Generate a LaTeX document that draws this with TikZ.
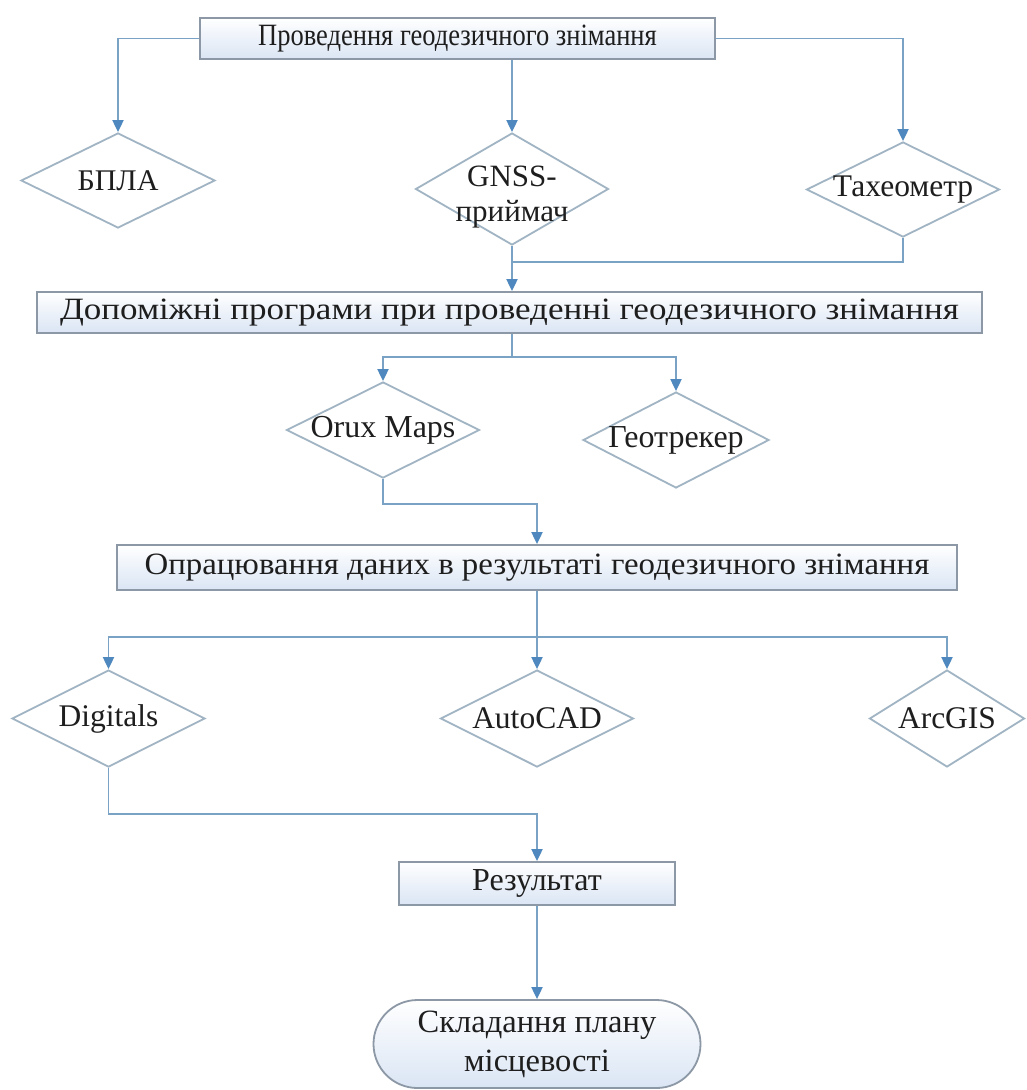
\documentclass[tikz,border=0pt]{standalone}
\usepackage{graphicx}
\usepackage{fontspec}
\setmainfont{Liberation Serif}
\usetikzlibrary{shapes.geometric,arrows.meta}
\definecolor{linec}{RGB}{122,162,196}
\definecolor{tipc}{RGB}{78,136,190}
\definecolor{boxline}{RGB}{140,152,165}
\definecolor{diamline}{RGB}{160,180,196}
\definecolor{boxfill}{RGB}{218,229,244}
\definecolor{txt}{RGB}{30,30,30}
\newcommand{\fs}[2]{\fontsize{#1}{#2}\selectfont}
\begin{document}
\begin{tikzpicture}[x=1pt,y=-1pt,
  every node/.style={font=\fs{32}{38}, text=txt},
  box/.style={draw=boxline, line width=1.8pt, top color=white, bottom color=boxfill, inner sep=0pt},
  dia/.style={draw=diamline, line width=1.8pt, shape=diamond, inner sep=0pt, fill=white},
  lbl/.style={inner sep=0pt, align=center},
  con/.style={draw=linec, line width=1.9pt},
  arr/.style={con, -{Triangle[width=11pt,length=12pt,color=tipc]}},
]
\useasboundingbox[fill=white] (0,0) rectangle (1027,1090);

% boxes
\node[box, minimum width=515pt, minimum height=41pt, font=\fs{31}{36}] (b1) at (457.5,38.5) {\scalebox{0.855}[1]{Проведення геодезичного знімання}};
\node[box, minimum width=945pt, minimum height=41pt, font=\fs{31}{36}] (b2) at (509.5,312.5) {\scalebox{1.13}[1]{Допоміжні програми при проведенні геодезичного знімання}};
\node[box, minimum width=840pt, minimum height=45pt, font=\fs{31}{36}] (b3) at (537,567.5) {\scalebox{1.06}[1]{Опрацювання даних в результаті геодезичного знімання}};
\node[box, minimum width=276pt, minimum height=43pt, font=\fs{32}{36}] (res) at (537,883.5) {Результат};
\node[box, rounded corners=44pt, minimum width=327pt, minimum height=88pt, align=center, font=\fs{32.5}{39}] (plan) at (537,1044) {Складання плану\\місцевості};

% diamonds
\node[dia, minimum width=194pt, minimum height=95pt] (bpla) at (118,180.5) {};
\node[lbl, font=\fs{30}{34}] (bpla-t) at (bpla) {БПЛА};
\node[dia, minimum width=193pt, minimum height=112pt] (gnss) at (512,189) {};
\node[lbl, font=\fs{31}{35}] (gnss-t) at (512,197) {GNSS-\\приймач};
\node[dia, minimum width=193pt, minimum height=95pt] (tax) at (903,189.5) {};
\node[lbl, font=\fs{31.5}{35}] (tax-t) at (tax) {Тахеометр};

\node[dia, minimum width=193pt, minimum height=96pt] (orux) at (383,430) {};
\node[lbl, font=\fs{32}{36}] (orux-t) at (orux) {Orux Maps};
\node[dia, minimum width=186pt, minimum height=96pt] (geo) at (676,440) {};
\node[lbl, font=\fs{32}{36}] (geo-t) at (geo) {Геотрекер};

\node[dia, minimum width=193pt, minimum height=97pt] (dig) at (108.5,718.5) {};
\node[lbl, font=\fs{31.5}{36}] (dig-t) at (dig) {Digitals};
\node[dia, minimum width=193pt, minimum height=97pt] (acad) at (537,718.5) {};
\node[lbl, font=\fs{31.5}{36}] (acad-t) at (acad) {AutoCAD};
\node[dia, minimum width=155pt, minimum height=97pt] (arc) at (947,718.5) {};
\node[lbl, font=\fs{31.5}{36}] (arc-t) at (arc) {ArcGIS};

% junction points
\coordinate (m1) at (512,262);
\coordinate (s2) at (512,357);
\coordinate (s4) at (537,637);

% connectors
\draw[arr] (b1.west) -| (bpla.north);
\draw[arr] (b1.south -| gnss.north) -- (gnss.north);
\draw[arr] (b1.east) -| (tax.north);
\draw[con] (tax.south) |- (m1);
\draw[arr] (gnss.south) -- (gnss.south |- b2.north);

\draw[con] (b2.south -| s2) -- (s2);
\draw[arr] (s2) -| (orux.north);
\draw[arr] (s2) -| (geo.north);

\draw[arr] (orux.south) -- ++(0,25) -| (b3.north);

\draw[arr] (b3.south) -- (acad.north);
\draw[arr] (s4) -| (dig.north);
\draw[arr] (s4) -| (arc.north);

\draw[arr] (dig.south) -- ++(0,46) -| (res.north);
\draw[arr] (res.south) -- (plan.north);
\end{tikzpicture}
\end{document}
